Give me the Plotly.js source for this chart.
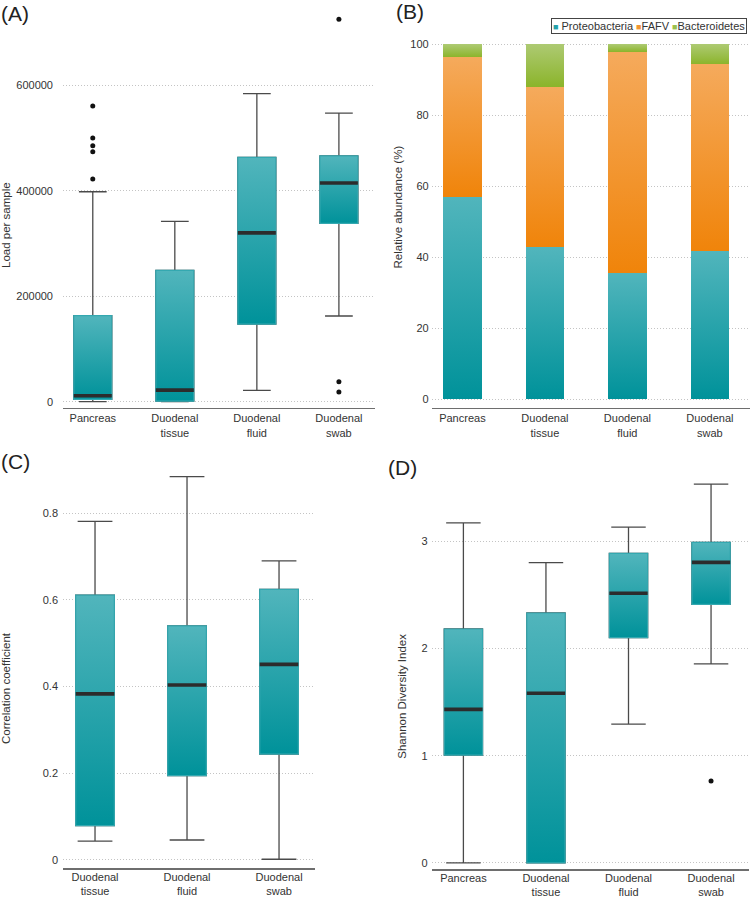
<!DOCTYPE html>
<html>
<head>
<meta charset="utf-8">
<script src="https://cdn.plot.ly/plotly-3.0.1.min.js"></script>
<style>
html,body{margin:0;padding:0;background:#fff;}
#chart{width:750px;height:898px;}
</style>
</head>
<body>
<svg width="0" height="0" style="position:absolute;left:0;top:0">
  <defs>
    <linearGradient id="gTeal" x1="0" y1="0" x2="0" y2="1">
      <stop offset="0" stop-color="#51b5bc"/>
      <stop offset="1" stop-color="#00929a"/>
    </linearGradient>
    <linearGradient id="gOrange" x1="0" y1="0" x2="0" y2="1">
      <stop offset="0" stop-color="#f5aa5c"/>
      <stop offset="1" stop-color="#f0840a"/>
    </linearGradient>
    <linearGradient id="gGreen" x1="0" y1="0" x2="0" y2="1">
      <stop offset="0" stop-color="#adca72"/>
      <stop offset="1" stop-color="#8bb42a"/>
    </linearGradient>
  </defs>
</svg>
<div id="chart"></div>
<script>
// ---------------- DATA ----------------
const sampleCats = ['Pancreas', 'Duodenal tissue', 'Duodenal fluid', 'Duodenal swab'];
const sampleTickText = ['Pancreas', 'Duodenal<br>tissue', 'Duodenal<br>fluid', 'Duodenal<br>swab'];
const corrCats = ['Duodenal tissue', 'Duodenal fluid', 'Duodenal swab'];
const corrTickText = ['Duodenal<br>tissue', 'Duodenal<br>fluid', 'Duodenal<br>swab'];

// (A) Load per sample
const loadQ1 = [4500, 1000, 147000, 338000];
const loadMedian = [11400, 22000, 320000, 414500];
const loadQ3 = [163000, 249000, 463000, 466000];
const loadLower = [0, 0, 21600, 162500];
const loadUpper = [398000, 342000, 584000, 547000];
const loadOutliersPancreas = [560600, 500000, 485000, 474000, 422000];
const loadOutliersSwab = [725000, 38000, 18400];

// (B) Relative abundance (%)
const phylumNames = ['Proteobacteria', 'FAFV', 'Bacteroidetes'];
const proteobacteria = [57.0, 42.8, 35.5, 41.8];
const fafv = [39.3, 45.1, 62.3, 52.5];
const bacteroidetes = [3.7, 12.1, 2.2, 5.7];

// (C) Correlation coefficient
const corrQ1 = [0.0785, 0.194, 0.244];
const corrMedian = [0.383, 0.4035, 0.451];
const corrQ3 = [0.611, 0.540, 0.6245];
const corrLower = [0.043, 0.0455, 0.001];
const corrUpper = [0.7815, 0.8845, 0.690];

// (D) Shannon Diversity Index
const shQ1 = [1.006, 0.0, 2.10, 2.41];
const shMedian = [1.432, 1.582, 2.514, 2.802];
const shQ3 = [2.181, 2.33, 2.886, 2.989];
const shLower = [0.0, 0.0, 1.295, 1.855];
const shUpper = [3.171, 2.799, 3.131, 3.532];
const shOutliersSwab = [0.764];

// ---------------- STYLE ----------------
const FONT = 'Liberation Sans, Arial, Helvetica, sans-serif';
const TEAL = 'rgb(38,162,170)';
const ORANGE = 'rgb(242,150,50)';
const GREEN = 'rgb(156,192,76)';
const phylumColors = [TEAL, ORANGE, GREEN];
const WHISKER = '#4a4a4a';
const MEDIAN = '#2c2c2c';
const OUTLINE = 'rgb(52,168,176)';
const GRID = '#c4c4c4';
const AXLINE = '#6e6e6e';
const TXT = '#333333';

function boxTraces(cats, q1, med, q3, lo, hi, xa, ya, w, capw) {
  const base = {type: 'box', x: cats, xaxis: xa, yaxis: ya, width: w, boxpoints: false,
                showlegend: false, hoverinfo: 'skip'};
  const whiskers = Object.assign({}, base, {
    q1: q1, median: med, q3: q3, lowerfence: lo, upperfence: hi,
    line: {color: WHISKER, width: 1.3}, fillcolor: 'rgba(0,0,0,0)', whiskerwidth: capw
  });
  const body = Object.assign({}, base, {
    q1: q1, median: med, q3: q3, lowerfence: q1, upperfence: q3,
    line: {color: OUTLINE, width: 1.2}, fillcolor: TEAL, whiskerwidth: 0
  });
  const medLine = Object.assign({}, base, {
    q1: med, median: med, q3: med, lowerfence: med, upperfence: med,
    line: {color: MEDIAN, width: 3.6}, fillcolor: 'rgba(0,0,0,0)', whiskerwidth: 0
  });
  return [whiskers, body, medLine];
}

function outlierTrace(cat, vals, xa, ya) {
  return {type: 'scatter', mode: 'markers', x: vals.map(() => cat), y: vals, xaxis: xa, yaxis: ya,
          marker: {color: '#111', size: 5}, showlegend: false, hoverinfo: 'skip'};
}

const traces = [];
// A
traces.push(...boxTraces(sampleCats, loadQ1, loadMedian, loadQ3, loadLower, loadUpper, 'x', 'y', 0.463, 0.73));
traces.push(outlierTrace(sampleCats[0], loadOutliersPancreas, 'x', 'y'));
traces.push(outlierTrace(sampleCats[3], loadOutliersSwab, 'x', 'y'));
// B
[proteobacteria, fafv, bacteroidetes].forEach((vals, i) => {
  traces.push({type: 'bar', x: sampleCats, y: vals, name: phylumNames[i], xaxis: 'x2', yaxis: 'y2',
               width: 0.468, marker: {color: phylumColors[i], line: {width: 0}},
               showlegend: false, hoverinfo: 'skip'});
});
// C
traces.push(...boxTraces(corrCats, corrQ1, corrMedian, corrQ3, corrLower, corrUpper, 'x3', 'y3', 0.42, 0.9));
// D
traces.push(...boxTraces(sampleCats, shQ1, shMedian, shQ3, shLower, shUpper, 'x4', 'y4', 0.464, 0.9));
traces.push(outlierTrace(sampleCats[3], shOutliersSwab, 'x4', 'y4'));

function xAx(domain, anchor, cats, ticktext, range, standoff) {
  return {domain: domain, anchor: anchor, type: 'category', categoryorder: 'array', categoryarray: cats,
          tickvals: cats, ticktext: ticktext, range: range, showline: true, linecolor: AXLINE,
          linewidth: 1.5, showgrid: false, zeroline: false, ticks: '', ticklabelstandoff: standoff,
          tickfont: {family: FONT, size: 11, color: TXT}, fixedrange: true};
}
function yAx(domain, anchor, range, tickvals, standoff) {
  return {domain: domain, anchor: anchor, range: range, tickvals: tickvals, tickformat: 'd',
          showgrid: true, gridcolor: GRID, griddash: '1px,2px', gridwidth: 1, zeroline: false,
          showline: false, ticks: '', ticklabelstandoff: standoff,
          tickfont: {family: FONT, size: 11, color: TXT}, fixedrange: true};
}

const yC = yAx([0.0334, 0.4766], 'x3', [-0.0192, 0.9], [0, 0.2, 0.4, 0.6, 0.8], 4);
yC.tickformat = '';

const legendText = phylumNames.map((n, i) =>
  '<span style="color:' + phylumColors[i] + ';font-size:9px">■</span>' + (i === 0 ? ' ' : '') + n
).join(' ');

function panelLabel(txt, xpx, ypx) {
  return {text: txt, xref: 'paper', yref: 'paper', x: xpx / 750, y: 1 - ypx / 898,
          xanchor: 'left', yanchor: 'middle', showarrow: false,
          font: {family: FONT, size: 21, color: '#222'}};
}
function yTitle(txt, xpx, ypx) {
  return {text: txt, xref: 'paper', yref: 'paper', x: xpx / 750, y: 1 - ypx / 898,
          xanchor: 'center', yanchor: 'middle', textangle: -90, showarrow: false,
          font: {family: FONT, size: 11.5, color: TXT}};
}

const layout = {
  width: 750, height: 898,
  margin: {l: 0, r: 0, t: 0, b: 0},
  paper_bgcolor: '#fff', plot_bgcolor: 'rgba(0,0,0,0)',
  showlegend: false, hovermode: false,
  boxmode: 'overlay', barmode: 'stack',
  font: {family: FONT, color: TXT},
  xaxis: xAx([0.084, 0.5], 'y', sampleCats, sampleTickText, [-0.363, 3.44], 0),
  yaxis: yAx([0.546, 0.9833], 'x', [-11374, 733081], [0, 200000, 400000, 600000], 9),
  xaxis2: xAx([0.5756, 1.0], 'y2', sampleCats, sampleTickText, [-0.372, 3.486], 0),
  yaxis2: yAx([0.546, 0.9555], 'x2', [-2.364, 101.2], [0, 20, 40, 60, 80, 100], 2),
  xaxis3: xAx([0.084, 0.42], 'y3', corrCats, corrTickText, [-0.348, 2.391], -2),
  yaxis3: yC,
  xaxis4: xAx([0.5756, 0.9987], 'y4', sampleCats, sampleTickText, [-0.384, 3.46], -2),
  yaxis4: yAx([0.032, 0.471], 'x4', [-0.0587, 3.616], [0, 1, 2, 3], 3),
  annotations: [
    panelLabel('(A)', -1, 14),
    panelLabel('(B)', 394, 11),
    panelLabel('(C)', -1, 461),
    panelLabel('(D)', 386, 467),
    yTitle('Load per sample', 6, 225),
    yTitle('Relative abundance (%)', 397, 207.5),
    yTitle('Correlation coefficient', 6, 688),
    yTitle('Shannon Diversity Index', 401.7, 696),
    {text: legendText, xref: 'paper', yref: 'paper', x: 747 / 750, y: 1 - 25.5 / 898,
     xanchor: 'right', yanchor: 'middle', showarrow: false, bordercolor: '#444', borderwidth: 1,
     borderpad: 1, bgcolor: '#fff', font: {family: FONT, size: 11, color: TXT}}
  ]
};

function applyGradients() {
  const map = {};
  map[TEAL.replace(/\s/g, '')] = 'url(#gTeal)';
  map[ORANGE.replace(/\s/g, '')] = 'url(#gOrange)';
  map[GREEN.replace(/\s/g, '')] = 'url(#gGreen)';
  document.querySelectorAll('#chart path').forEach(p => {
    const f = (p.style.fill || '').replace(/\s/g, '');
    if (map[f]) p.style.fill = map[f];
  });
}

Plotly.newPlot('chart', traces, layout, {staticPlot: true, displayModeBar: false}).then(applyGradients);
</script>
</body>
</html>
